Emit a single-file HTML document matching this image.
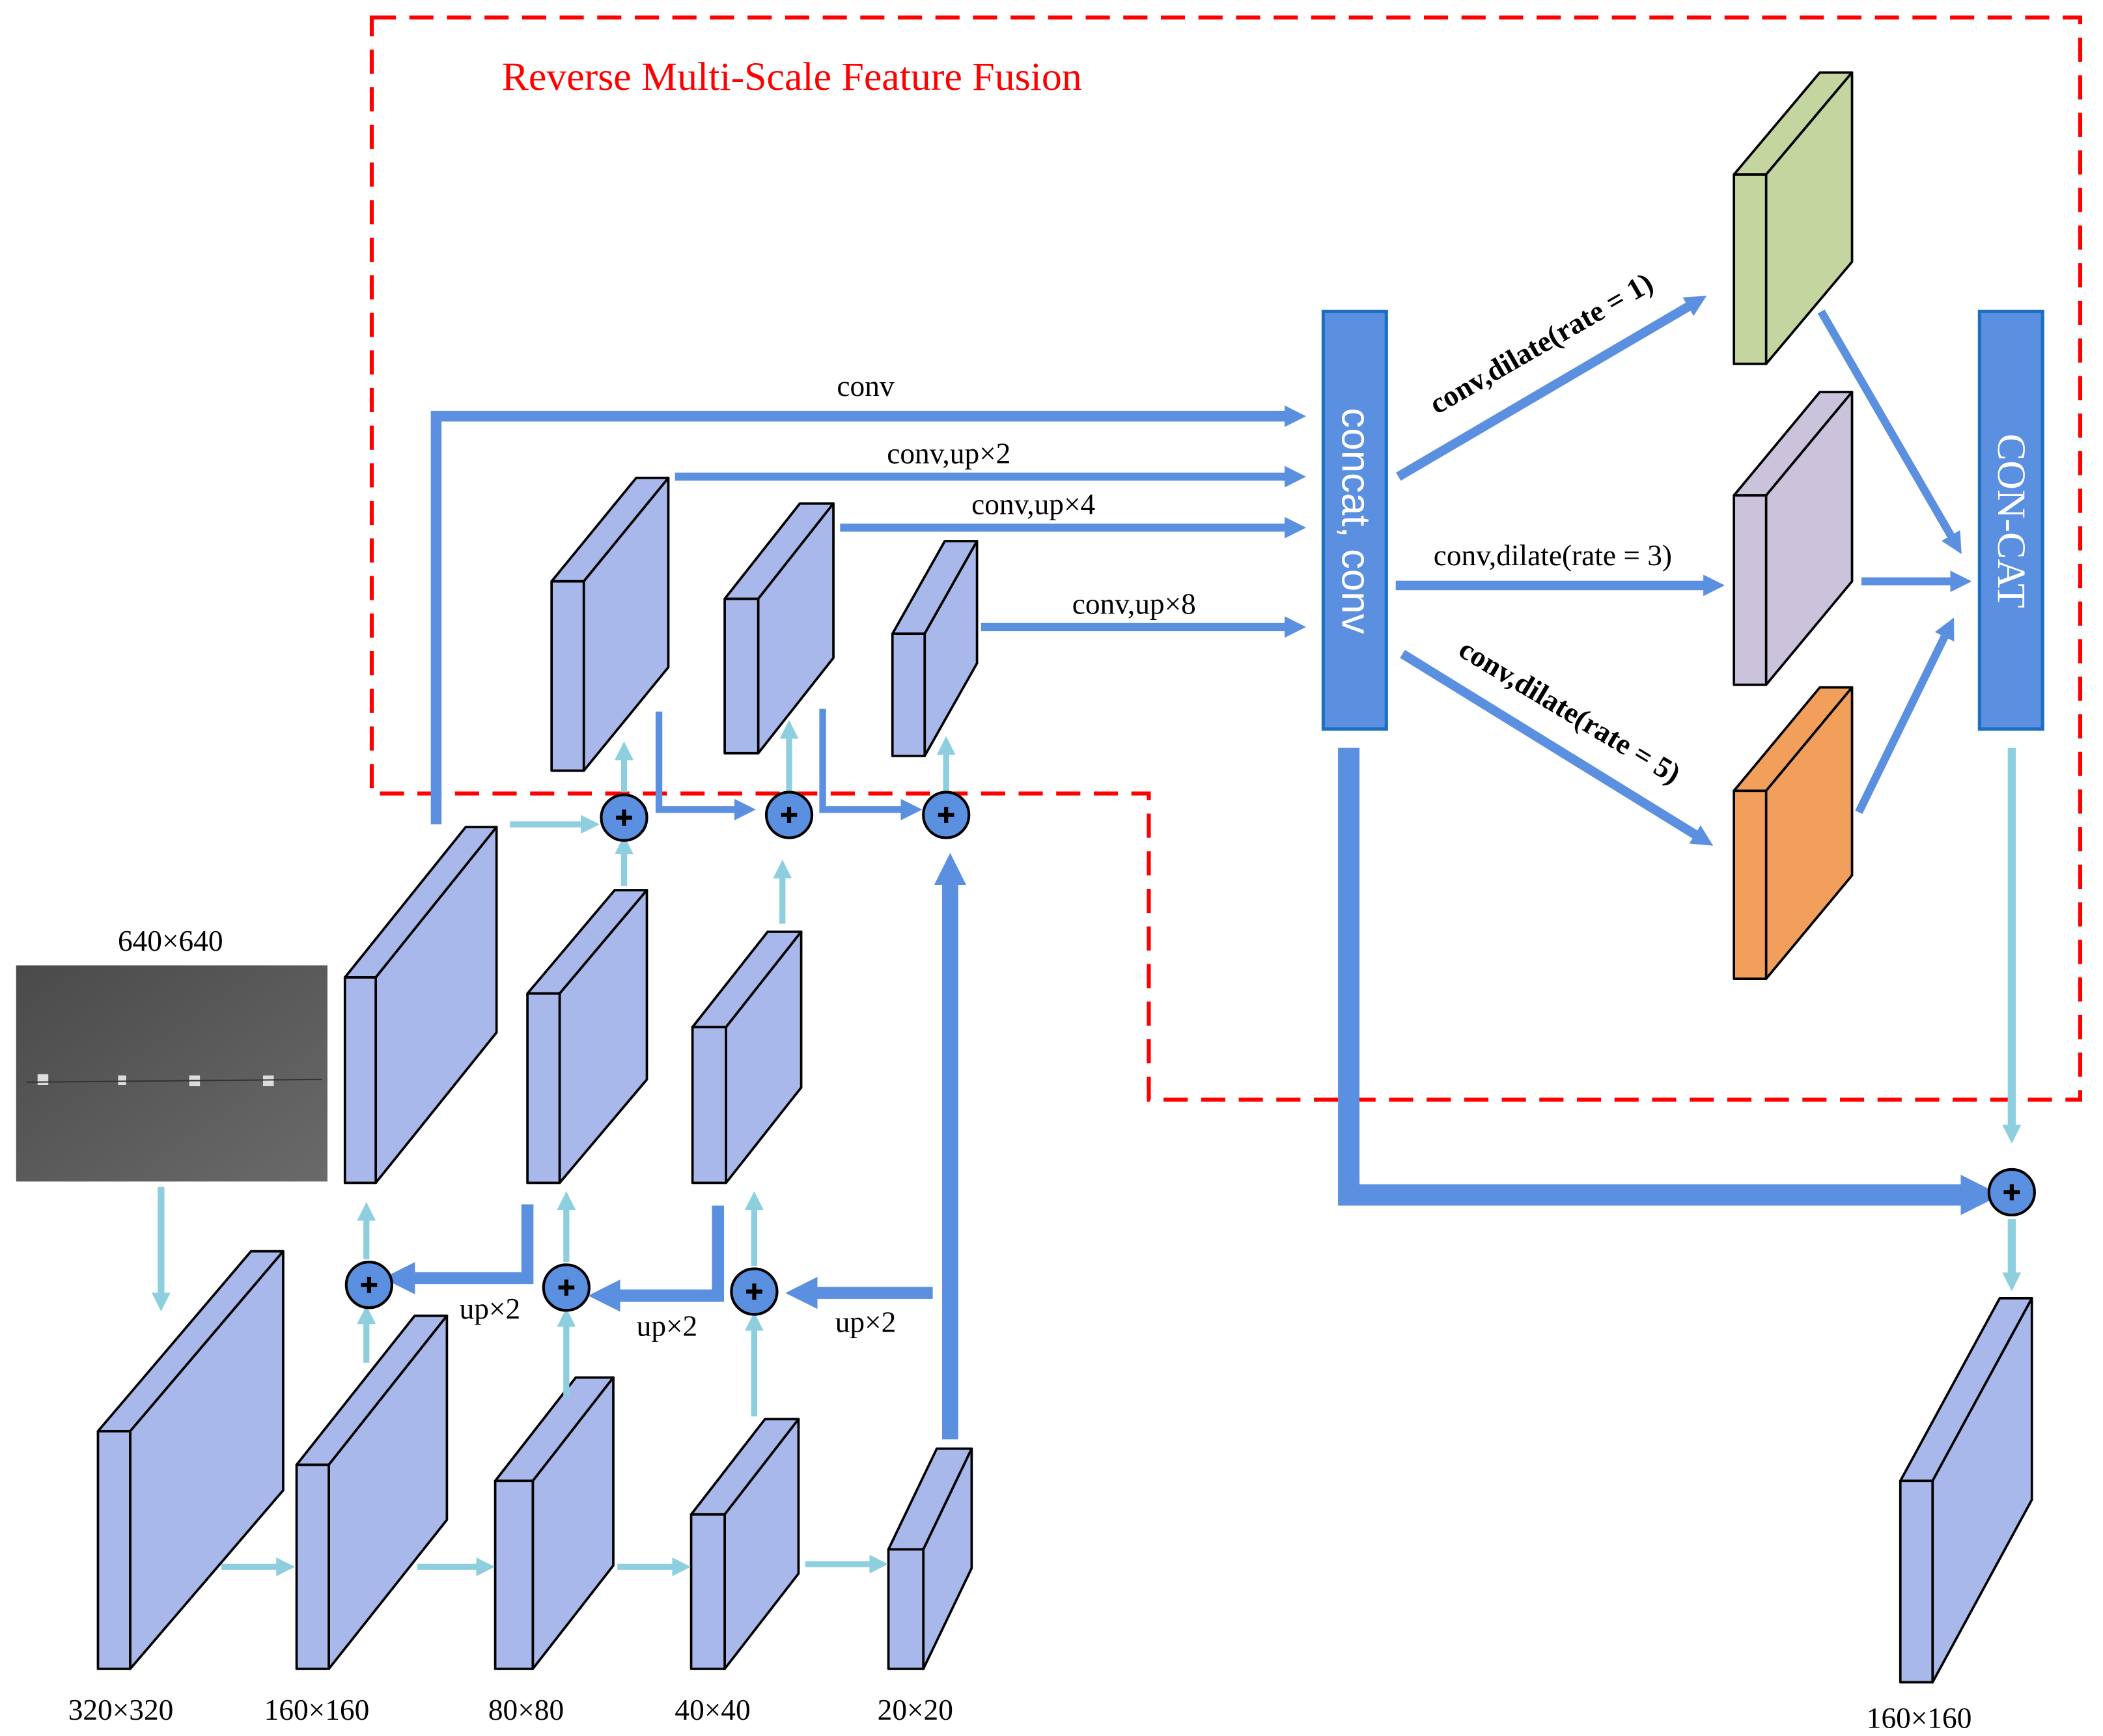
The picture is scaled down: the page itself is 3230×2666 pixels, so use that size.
<!DOCTYPE html>
<html><head><meta charset="utf-8"><style>
html,body{margin:0;padding:0;background:#fff;}
svg{display:block;}
text{font-family:"Liberation Serif",serif;}
</style></head><body>
<svg width="3230" height="2666" viewBox="0 0 1567 1293" preserveAspectRatio="none" xmlns="http://www.w3.org/2000/svg">
<defs>
<marker id="ab" viewBox="0 0 10 10" refX="3" refY="5" markerUnits="userSpaceOnUse" markerWidth="16" markerHeight="16" orient="auto"><path d="M0,0 L10,5 L0,10 z" fill="#5b8fe0"/></marker>
<marker id="abL" viewBox="0 0 10 10" refX="3" refY="5" markerUnits="userSpaceOnUse" markerWidth="24" markerHeight="24" orient="auto"><path d="M0,0 L10,5 L0,10 z" fill="#5b8fe0"/></marker>
<marker id="abX" viewBox="0 0 10 10" refX="3" refY="5" markerUnits="userSpaceOnUse" markerWidth="30" markerHeight="30" orient="auto"><path d="M0,0 L10,5 L0,10 z" fill="#5b8fe0"/></marker>
<marker id="al" viewBox="0 0 10 10" refX="3" refY="5" markerUnits="userSpaceOnUse" markerWidth="14" markerHeight="14" orient="auto"><path d="M0,0 L10,5 L0,10 z" fill="#8ecfdf"/></marker>
<linearGradient id="ph" x1="0" y1="0" x2="1" y2="1"><stop offset="0" stop-color="#4a4a4a"/><stop offset="0.5" stop-color="#5a5a5a"/><stop offset="1" stop-color="#6a6a6a"/></linearGradient>
</defs>

<path d="M277,13 L1550,13 L1550,819 L856,819 L856,591 L277,591 Z" fill="none" stroke="#ff0000" stroke-width="3" stroke-dasharray="18 10"/>
<text x="590" y="67" font-size="30" fill="#ff0000" text-anchor="middle">Reverse Multi-Scale Feature Fusion</text>

<rect x="12" y="719" width="232" height="161" fill="url(#ph)"/>
<g fill="#ddd"><rect x="28" y="800" width="8" height="8"/><rect x="88" y="801" width="6" height="7"/><rect x="141" y="801" width="8" height="8"/><rect x="196" y="801" width="8" height="8"/></g>
<line x1="20" y1="806" x2="240" y2="804" stroke="#333" stroke-width="1"/>
<text x="127" y="708" font-size="22" text-anchor="middle">640×640</text>

<g stroke="#000" stroke-width="1.8" stroke-linejoin="round">
<g fill="#a8b8ea">
<polygon points="73,1066 97,1066 211,932 187,932"/><polygon points="97,1066 211,932 211,1110 97,1243"/><rect x="73" y="1066" width="24" height="177"/>
<polygon points="221,1091 245,1091 333,980 309,980"/><polygon points="245,1091 333,980 333,1132 245,1243"/><rect x="221" y="1091" width="24" height="152"/>
<polygon points="369,1103 397,1103 457,1026 429,1026"/><polygon points="397,1103 457,1026 457,1166 397,1243"/><rect x="369" y="1103" width="28" height="140"/>
<polygon points="515,1128 540,1128 595,1057 570,1057"/><polygon points="540,1128 595,1057 595,1172 540,1243"/><rect x="515" y="1128" width="25" height="115"/>
<polygon points="662,1154 688,1154 724,1079 698,1079"/><polygon points="688,1154 724,1079 724,1168 688,1243"/><rect x="662" y="1154" width="26" height="89"/>
<polygon points="257,728 280,728 370,616 347,616"/><polygon points="280,728 370,616 370,769 280,881"/><rect x="257" y="728" width="23" height="153"/>
<polygon points="393,740 417,740 482,663 458,663"/><polygon points="417,740 482,663 482,804 417,881"/><rect x="393" y="740" width="24" height="141"/>
<polygon points="516,765 541,765 597,694 572,694"/><polygon points="541,765 597,694 597,810 541,881"/><rect x="516" y="765" width="25" height="116"/>
<polygon points="411,433 435,433 498,356 474,356"/><polygon points="435,433 498,356 498,497 435,574"/><rect x="411" y="433" width="24" height="141"/>
<polygon points="540,446 565,446 621,375 596,375"/><polygon points="565,446 621,375 621,490 565,561"/><rect x="540" y="446" width="25" height="115"/>
<polygon points="665,472 689,472 728,403 704,403"/><polygon points="689,472 728,403 728,494 689,563"/><rect x="665" y="472" width="24" height="91"/>
<polygon points="1416,1103 1440,1103 1514,967 1490,967"/><polygon points="1440,1103 1514,967 1514,1117 1440,1253"/><rect x="1416" y="1103" width="24" height="150"/>
</g>
<g fill="#c5d5a0"><polygon points="1292,130 1316,130 1380,54 1356,54"/><polygon points="1316,130 1380,54 1380,195 1316,271"/><rect x="1292" y="130" width="24" height="141"/></g>
<g fill="#cbc3dc"><polygon points="1292,369 1316,369 1380,292 1356,292"/><polygon points="1316,369 1380,292 1380,433 1316,510"/><rect x="1292" y="369" width="24" height="141"/></g>
<g fill="#f29f5c"><polygon points="1292,589 1316,589 1380,512 1356,512"/><polygon points="1316,589 1380,512 1380,652 1316,729"/><rect x="1292" y="589" width="24" height="140"/></g>
</g>

<rect x="986" y="232" width="47" height="311" fill="#5b8fe0" stroke="#1f6fc0" stroke-width="2.5"/>
<text transform="translate(1000,388) rotate(90)" font-size="30" fill="#fff" text-anchor="middle" style="font-family:'Liberation Sans',sans-serif">concat, conv</text>
<rect x="1475" y="232" width="47" height="311" fill="#5b8fe0" stroke="#1f6fc0" stroke-width="2.5"/>
<text transform="translate(1489,388) rotate(90)" font-size="30" fill="#fff" text-anchor="middle">CON-CAT</text>

<g fill="none" stroke="#5b8fe0">
<path d="M325,614 L325,310 L962,310" stroke-width="8" marker-end="url(#ab)"/>
<path d="M503,355 L962,355" stroke-width="6" marker-end="url(#ab)"/>
<path d="M626,393 L962,393" stroke-width="6" marker-end="url(#ab)"/>
<path d="M731,467 L962,467" stroke-width="6" marker-end="url(#ab)"/>
<path d="M1042,355 L1262,226" stroke-width="7" marker-end="url(#ab)"/>
<path d="M1040,436 L1274,436" stroke-width="7" marker-end="url(#ab)"/>
<path d="M1045,487 L1267,624" stroke-width="7" marker-end="url(#ab)"/>
<path d="M1357,232 L1456,403" stroke-width="6" marker-end="url(#ab)"/>
<path d="M1387,433 L1458,433" stroke-width="6" marker-end="url(#ab)"/>
<path d="M1385,605 L1451,470" stroke-width="6" marker-end="url(#ab)"/>
<path d="M1005,557 L1005,890 L1470,890" stroke-width="16" marker-end="url(#abX)"/>
<path d="M708,1072 L708,652" stroke-width="12" marker-end="url(#abL)"/>
<path d="M491,530 L491,603 L552,603" stroke-width="5" marker-end="url(#ab)"/>
<path d="M613,528 L613,603 L676,603" stroke-width="5" marker-end="url(#ab)"/>
<path d="M695,963 L602,963" stroke-width="9" marker-end="url(#abL)"/>
<path d="M535,898 L535,965 L455,965" stroke-width="9" marker-end="url(#abL)"/>
<path d="M393,897 L393,952 L302,952" stroke-width="9" marker-end="url(#abL)"/>
</g>

<g fill="none" stroke="#8ecfdf" stroke-width="4.5">
<path d="M380,614 L437,614" marker-end="url(#al)"/>
<path d="M465,590 L465,562" marker-end="url(#al)"/>
<path d="M465,660 L465,632" marker-end="url(#al)"/>
<path d="M583,688 L583,650" marker-end="url(#al)"/>
<path d="M588,590 L588,546" marker-end="url(#al)"/>
<path d="M705,590 L705,558" marker-end="url(#al)"/>
<path d="M1499,557 L1499,842" stroke-width="6" marker-end="url(#al)"/>
<path d="M1499,908 L1499,952" stroke-width="6" marker-end="url(#al)"/>
<path d="M273,1015 L273,982" marker-end="url(#al)"/>
<path d="M273,938 L273,905" marker-end="url(#al)"/>
<path d="M422,1040 L422,984" marker-end="url(#al)"/>
<path d="M422,940 L422,897" marker-end="url(#al)"/>
<path d="M562,1055 L562,987" marker-end="url(#al)"/>
<path d="M562,943 L562,897" marker-end="url(#al)"/>
<path d="M165,1167 L210,1167" marker-end="url(#al)"/>
<path d="M311,1167 L359,1167" marker-end="url(#al)"/>
<path d="M460,1167 L505,1167" marker-end="url(#al)"/>
<path d="M600,1165 L652,1165" marker-end="url(#al)"/>
<path d="M120,884 L120,967" stroke-width="5" marker-end="url(#al)"/>
</g>

<g>
<g transform="translate(465,609)"><circle r="17" fill="#5b8fe0" stroke="#000" stroke-width="2"/><path d="M-6,0H6M0,-6V6" stroke="#000" stroke-width="3"/></g>
<g transform="translate(588,607)"><circle r="17" fill="#5b8fe0" stroke="#000" stroke-width="2"/><path d="M-6,0H6M0,-6V6" stroke="#000" stroke-width="3"/></g>
<g transform="translate(705,607)"><circle r="17" fill="#5b8fe0" stroke="#000" stroke-width="2"/><path d="M-6,0H6M0,-6V6" stroke="#000" stroke-width="3"/></g>
<g transform="translate(275,957)"><circle r="17" fill="#5b8fe0" stroke="#000" stroke-width="2"/><path d="M-6,0H6M0,-6V6" stroke="#000" stroke-width="3"/></g>
<g transform="translate(422,959)"><circle r="17" fill="#5b8fe0" stroke="#000" stroke-width="2"/><path d="M-6,0H6M0,-6V6" stroke="#000" stroke-width="3"/></g>
<g transform="translate(562,962)"><circle r="17" fill="#5b8fe0" stroke="#000" stroke-width="2"/><path d="M-6,0H6M0,-6V6" stroke="#000" stroke-width="3"/></g>
<g transform="translate(1499,888)"><circle r="17" fill="#5b8fe0" stroke="#000" stroke-width="2"/><path d="M-6,0H6M0,-6V6" stroke="#000" stroke-width="3"/></g>
</g>

<g font-size="22" fill="#000" text-anchor="middle">
<text x="645" y="295">conv</text>
<text x="707" y="345">conv,up×2</text>
<text x="770" y="383">conv,up×4</text>
<text x="845" y="457">conv,up×8</text>
<text transform="translate(1152,262) rotate(-30)" font-weight="bold">conv,dilate(rate = 1)</text>
<text x="1157" y="421">conv,dilate(rate = 3)</text>
<text transform="translate(1166,536) rotate(31)" font-weight="bold">conv,dilate(rate = 5)</text>
<text x="365" y="982">up×2</text>
<text x="497" y="995">up×2</text>
<text x="645" y="992">up×2</text>
<text x="90" y="1281">320×320</text>
<text x="236" y="1281">160×160</text>
<text x="392" y="1281">80×80</text>
<text x="531" y="1281">40×40</text>
<text x="682" y="1281">20×20</text>
<text x="1430" y="1287">160×160</text>
</g>
</svg>
</body></html>
